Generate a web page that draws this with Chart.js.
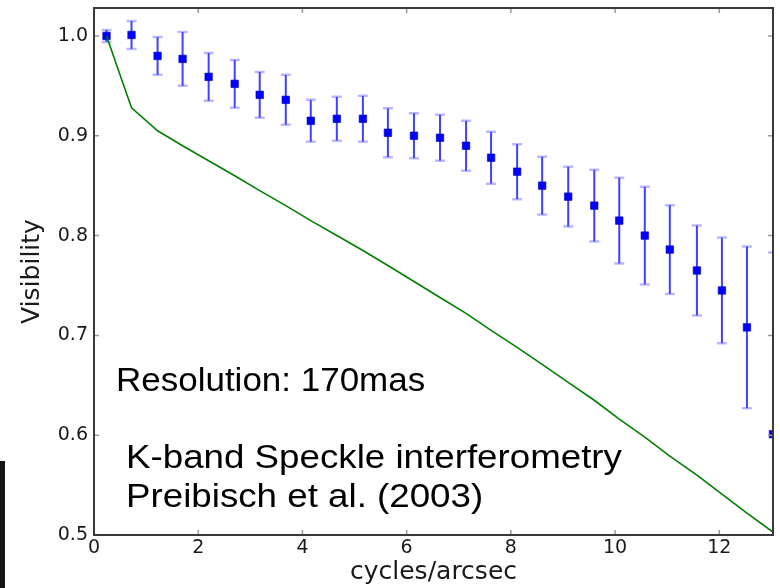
<!DOCTYPE html>
<html>
<head>
<meta charset="utf-8">
<script src="https://cdn.jsdelivr.net/npm/chart.js@4.4.1/dist/chart.umd.min.js"></script>
<style>
  html, body { margin: 0; padding: 0; background: #fff; }
  #wrap { width: 780px; height: 588px; position: relative; }
</style>
</head>
<body>
<div id="wrap"><canvas id="vis_chart" width="780" height="588"></canvas></div>
<script>
// spatial frequency of each measured point (cycles/arcsec)
var freq = [0.24, 0.72, 1.22, 1.70, 2.20, 2.70, 3.18, 3.68, 4.16, 4.66, 5.16, 5.64, 6.14, 6.64,
            7.14, 7.62, 8.12, 8.60, 9.10, 9.60, 10.08, 10.57, 11.05, 11.57, 12.05, 12.53, 13.03];
// measured visibility and its 1-sigma error
var visibility = [1.000, 1.001, 0.980, 0.977, 0.959, 0.952, 0.941, 0.936, 0.915, 0.917, 0.917, 0.903, 0.900, 0.898,
                  0.890, 0.878, 0.864, 0.850, 0.839, 0.830, 0.815, 0.800, 0.786, 0.765, 0.745, 0.708, 0.601];
var visErr = [0.006, 0.014, 0.019, 0.027, 0.024, 0.024, 0.023, 0.025, 0.021, 0.022, 0.023, 0.0245, 0.0225, 0.023,
              0.025, 0.026, 0.0275, 0.029, 0.030, 0.036, 0.043, 0.049, 0.0445, 0.045, 0.053, 0.081, 0.182];
// model curve
var model = [1.000, 0.928, 0.905, 0.890, 0.875, 0.860, 0.845, 0.830, 0.815, 0.800, 0.785, 0.770, 0.754, 0.738,
             0.722, 0.705, 0.688, 0.671, 0.653, 0.635, 0.616, 0.598, 0.579, 0.560, 0.541, 0.522, 0.503];

var xTicks = [0, 2, 4, 6, 8, 10, 12];
var yTicks = [0.5, 0.6, 0.7, 0.8, 0.9, 1.0];

var notes = [
    { text: 'Resolution: 170mas', x: 116, y: 391, size: 33, stretch: 1.06 },
    { text: 'K-band Speckle interferometry', x: 126, y: 468, size: 34, stretch: 1.08 },
    { text: 'Preibisch et al. (2003)', x: 126, y: 507, size: 34, stretch: 1.08 }
];

function pts(ys) {
    return freq.map(function (f, i) { return { x: f, y: ys[i] }; });
}

// error bars, inward ticks, axes frame and the text notes
var extras = {
    id: 'extras',
    beforeDatasetsDraw: function (chart) {
        var ctx = chart.ctx, a = chart.chartArea;
        var xs = chart.scales.x, ys = chart.scales.y;
        ctx.save();
        ctx.beginPath();
        ctx.rect(a.left, a.top, a.right - a.left, a.bottom - a.top);
        ctx.clip();
        freq.forEach(function (f, i) {
            var px = xs.getPixelForValue(f);
            var top = ys.getPixelForValue(visibility[i] + visErr[i]);
            var bot = ys.getPixelForValue(visibility[i] - visErr[i]);
            ctx.strokeStyle = 'rgba(30,30,255,0.85)';
            ctx.lineWidth = 2;
            ctx.beginPath();
            ctx.moveTo(px, top);
            ctx.lineTo(px, bot);
            ctx.stroke();
            ctx.strokeStyle = 'rgba(80,80,255,0.4)';
            ctx.lineWidth = 2.5;
            ctx.beginPath();
            ctx.moveTo(px - 5, top); ctx.lineTo(px + 5, top);
            ctx.moveTo(px - 5, bot); ctx.lineTo(px + 5, bot);
            ctx.stroke();
        });
        ctx.restore();
    },
    afterDraw: function (chart) {
        var ctx = chart.ctx, a = chart.chartArea;
        var xs = chart.scales.x, ys = chart.scales.y;
        ctx.save();
        ctx.strokeStyle = '#9a9a9a';
        ctx.lineWidth = 1.5;
        ctx.beginPath();
        xTicks.forEach(function (t) {
            var px = xs.getPixelForValue(t);
            ctx.moveTo(px, a.bottom); ctx.lineTo(px, a.bottom - 5);
            ctx.moveTo(px, a.top); ctx.lineTo(px, a.top + 5);
        });
        yTicks.forEach(function (t) {
            var py = ys.getPixelForValue(t);
            ctx.moveTo(a.left, py); ctx.lineTo(a.left + 5, py);
            ctx.moveTo(a.right, py); ctx.lineTo(a.right - 5, py);
        });
        ctx.stroke();

        ctx.strokeStyle = '#3a3a3a';
        ctx.lineWidth = 2;
        ctx.strokeRect(a.left, a.top, a.right - a.left, a.bottom - a.top);

        ctx.fillStyle = '#000';
        ctx.textBaseline = 'alphabetic';
        notes.forEach(function (n) {
            ctx.save();
            ctx.translate(n.x, n.y);
            ctx.scale(n.stretch, 1);
            ctx.font = n.size + 'px "Liberation Sans", Arial, sans-serif';
            ctx.fillText(n.text, 0, 0);
            ctx.restore();
        });

        ctx.fillStyle = '#141414';
        ctx.fillRect(0, 461, 5, 127);
        ctx.restore();
    }
};

var tickFont = { family: 'DejaVu Sans', size: 19 };

function noEdgePadding(scale) {
    scale.paddingTop = 0;
    scale.paddingBottom = 0;
    scale.paddingLeft = 0;
    scale.paddingRight = 0;
}

var ctx = document.getElementById('vis_chart').getContext('2d');
var myChart = new Chart(ctx, {
    type: 'scatter',
    data: {
        datasets: [{
            label: 'model',
            data: pts(model),
            showLine: true,
            borderColor: '#008000',
            borderWidth: 1.6,
            pointRadius: 0,
            tension: 0,
            clip: 0
        }, {
            label: 'data',
            data: pts(visibility),
            pointStyle: 'rect',
            pointRadius: 5.3,
            backgroundColor: '#0000ff',
            borderColor: 'rgba(0,0,180,0.6)',
            borderWidth: 1,
            clip: 0
        }]
    },
    options: {
        responsive: false,
        animation: false,
        layout: { padding: { left: 0, right: 7, top: 8, bottom: 0 } },
        plugins: {
            legend: { display: false },
            tooltip: { enabled: false }
        },
        scales: {
            x: {
                type: 'linear',
                min: 0,
                max: 13.03,
                grid: { display: false, drawTicks: false },
                border: { display: false },
                afterFit: function (scale) { scale.height = 53; noEdgePadding(scale); },
                ticks: {
                    stepSize: 2,
                    includeBounds: false,
                    color: '#1a1a1a',
                    font: tickFont,
                    padding: 2,
                    maxRotation: 0
                },
                title: {
                    display: true,
                    text: 'cycles/arcsec',
                    color: '#1a1a1a',
                    font: { family: 'DejaVu Sans', size: 25 },
                    padding: { top: 0, bottom: 1 }
                }
            },
            y: {
                type: 'linear',
                min: 0.5,
                max: 1.028,
                grid: { display: false, drawTicks: false },
                border: { display: false },
                afterFit: function (scale) { scale.width = 94; noEdgePadding(scale); },
                ticks: {
                    stepSize: 0.1,
                    includeBounds: false,
                    color: '#1a1a1a',
                    font: tickFont,
                    padding: 6,
                    callback: function (v) { return v.toFixed(1); }
                },
                title: {
                    display: true,
                    text: 'Visibility',
                    color: '#1a1a1a',
                    font: { family: 'DejaVu Sans', size: 25 },
                    padding: { top: 17, bottom: 0 }
                }
            }
        }
    },
    plugins: [extras]
});
</script>
</body>
</html>
